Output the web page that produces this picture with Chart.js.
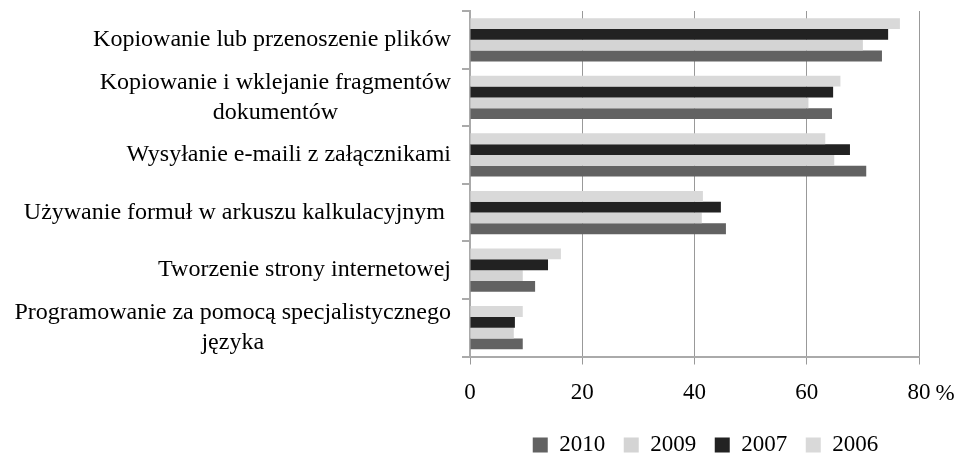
<!DOCTYPE html>
<html>
<head>
<meta charset="utf-8">
<script src="https://cdn.jsdelivr.net/npm/chart.js@4"></script>
<style>
  body { margin: 0; background: #fff; }
  #box { width: 955px; height: 457px; }
</style>
</head>
<body>
<div id="box"><canvas id="wykres"></canvas></div>
<script>
  var kategorie = [
    ["Kopiowanie lub przenoszenie plików"],
    ["Kopiowanie i wklejanie fragmentów", "dokumentów"],
    ["Wysyłanie e-maili z załącznikami"],
    ["Używanie formuł w arkuszu kalkulacyjnym "],
    ["Tworzenie strony internetowej"],
    ["Programowanie za pomocą specjalistycznego", "języka"]
  ];
  var lata = ["2006", "2007", "2009", "2010"];
  var v2006 = [76.6, 66.0, 63.3, 41.5, 16.2, 9.4];
  var v2007 = [74.5, 64.7, 67.7, 44.7, 13.9, 8.0];
  var v2009 = [70.0, 60.3, 64.9, 41.3, 9.4, 7.8];
  var v2010 = [73.4, 64.5, 70.6, 45.6, 11.6, 9.4];
  var osX = [0, 20, 40, 60, 80];

  var czcionka = "'Liberation Serif', 'Times New Roman', serif";

  // etykiety kategorii: wiersze wysrodkowane, blok wyrownany do prawej
  var etykiety = {
    id: "etykiety",
    afterLayout: function(chart) {
      // legenda troche nizej i w prawo, jak w oryginale
      var lg = chart.legend;
      lg.left += 11; lg.right += 11;
      lg.top += 9.5; lg.bottom += 9.5;
    },
    afterDraw: function(chart) {
      var ctx = chart.ctx;
      var sy = chart.scales.y;
      var sx = chart.scales.x;
      ctx.save();
      ctx.font = "24px " + czcionka;
      ctx.fillStyle = "#000";
      ctx.textAlign = "center";
      ctx.textBaseline = "middle";
      kategorie.forEach(function(linie, i) {
        var y = sy.getPixelForTick(i);
        var w = 0;
        linie.forEach(function(l) { w = Math.max(w, ctx.measureText(l).width); });
        var cx = 451 - w / 2;
        linie.forEach(function(l, j) {
          ctx.fillText(l, cx, y + (j - (linie.length - 1) / 2) * 30);
        });
      });
      // znak % za ostatnia etykieta osi
      ctx.font = "23px " + czcionka;
      var x80 = sx.getPixelForValue(osX[osX.length - 1]);
      var w80 = ctx.measureText(String(osX[osX.length - 1])).width;
      ctx.textAlign = "left";
      ctx.fillText("%", x80 + w80 / 2 + 5, sx.bottom - (sx.bottom - sx.top) / 2 + 13);
      ctx.restore();
    }
  };

  new Chart(document.getElementById("wykres"), {
    type: "bar",
    data: {
      labels: kategorie,
      datasets: [
        { label: lata[0], data: v2006, backgroundColor: "#d9d9d9" },
        { label: lata[1], data: v2007, backgroundColor: "#222222" },
        { label: lata[2], data: v2009, backgroundColor: "#d4d4d4" },
        { label: lata[3], data: v2010, backgroundColor: "#626262" }
      ]
    },
    options: {
      indexAxis: "y",
      responsive: true,
      maintainAspectRatio: false,
      animation: false,
      datasets: { bar: { categoryPercentage: 0.75, barPercentage: 1.0 } },
      layout: { padding: { top: 11, right: 36, bottom: 0, left: 0 } },
      scales: {
        x: {
          min: 0,
          max: 80,
          afterBuildTicks: function(s) { s.ticks = osX.map(function(v) { return { value: v }; }); },
          afterFit: function(s) { s.height = 49; },
          grid: { color: "#999999", lineWidth: 1, tickLength: 8 },
          border: { color: "#aaaaaa", width: 2 },
          ticks: { color: "#000", font: { family: czcionka, size: 23 }, padding: 15 }
        },
        y: {
          afterFit: function(s) { s.width = 470; },
          grid: { drawOnChartArea: false, tickLength: 8, color: "#aaaaaa", lineWidth: 2, offset: true },
          border: { color: "#aaaaaa", width: 2 },
          ticks: { display: false }
        }
      },
      plugins: {
        legend: {
          position: "bottom",
          fullSize: false,
          reverse: true,
          labels: {
            color: "#000",
            font: { family: czcionka, size: 23 },
            boxWidth: 15,
            boxHeight: 15,
            padding: 18.5
          }
        },
        tooltip: { enabled: false }
      }
    },
    plugins: [etykiety]
  });
</script>
</body>
</html>
